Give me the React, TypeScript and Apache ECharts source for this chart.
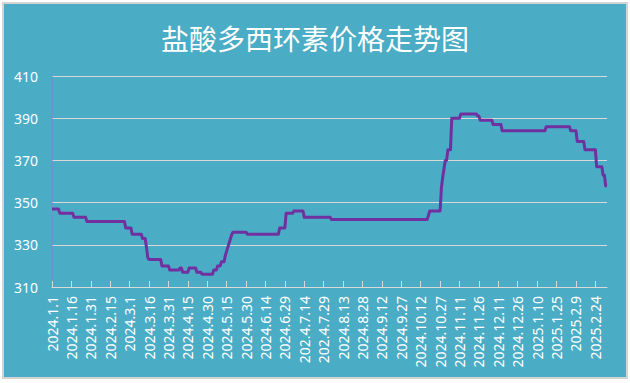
import React, { useEffect, useRef } from 'react';
import * as echarts from 'echarts';

const titleText = '盐酸多西环素价格走势图';

const tickLabels = [
  '2024.1.1', '2024.1.16', '2024.1.31', '2024.2.15', '2024.3.1', '2024.3.16', '2024.3.31',
  '2024.4.15', '2024.4.30', '2024.5.15', '2024.5.30', '2024.6.14', '2024.6.29', '202.4.7.14',
  '202.4.7.29', '2024.8.13', '2024.8.28', '2024.9.12', '2024.9.27', '2024.10.12', '2024.10.27',
  '2024.11.11', '2024.11.26', '2024.12.11', '2024.12.26', '2025.1.10', '2025.1.25', '2025.2.9',
  '2025.2.24',
];
const tickDays = [
  0, 15, 30, 45, 60, 75, 90, 105, 120, 135, 150, 165, 180, 195, 210, 225, 240, 255, 270, 285,
  300, 315, 330, 345, 360, 375, 390, 405, 420,
];
const lastDay = 429;

// day index (from 2024.1.1) where the price level changes
const priceDays = [
  0, 5, 6, 16, 17, 26, 27, 56, 57, 61, 62, 69, 70, 72, 73, 74, 75, 84, 85, 90, 91, 98, 99, 100,
  101, 105, 106, 111, 112, 115, 116, 124, 125, 127, 128, 130, 131, 133, 134, 135, 136, 137, 138,
  139, 140, 150, 151, 175, 176, 180, 181, 186, 187, 194, 195, 215, 216, 290, 291, 292, 300, 301,
  302, 303, 304, 305, 306, 308, 309, 315, 316, 328, 329, 330, 331, 340, 341, 347, 348, 381, 382,
  400, 401, 405, 406, 411, 412, 420, 421, 425, 426, 427, 428, 429,
];
const priceValues = [
  347, 347, 345, 345, 343, 343, 341, 341, 338, 338, 335, 335, 333, 333, 329, 324, 323, 323, 320,
  320, 318, 318, 319, 319, 317, 317, 319, 319, 317, 317, 316, 316, 318, 318, 320, 320, 322, 322,
  325, 327, 329, 331, 333, 335, 336, 336, 335, 335, 338, 338, 345, 345, 346, 346, 343, 343, 342,
  342, 344, 346, 346, 357, 362, 366, 370, 370, 375, 375, 390, 390, 392, 392, 391, 391, 389, 389,
  387, 387, 384, 384, 386, 386, 384, 384, 379, 379, 375, 375, 367, 367, 363, 363, 358, 358,
];

const yMin = 310;
const yMax = 410;
const yInterval = 20;

export default function App() {
  const ref = useRef<HTMLDivElement>(null);

  useEffect(() => {
    if (!ref.current) return;
    const chart = echarts.init(ref.current, undefined, { renderer: 'svg' });
    const data = priceDays.map((d, i) => [d, priceValues[i]]);
    chart.setOption({
      animation: false,
      backgroundColor: 'transparent',
      title: {
        text: titleText,
        left: 'center',
        top: 19,
        textStyle: {
          color: '#ffffff',
          fontSize: 28,
          fontWeight: 'normal',
          fontFamily: '"Noto Sans CJK SC", sans-serif',
        },
      },
      grid: { left: 52, right: 23, top: 76, bottom: 96, containLabel: false },
      xAxis: {
        type: 'value',
        min: 0,
        max: lastDay,
        axisLine: { show: true, onZero: false, lineStyle: { color: '#d9d9d9', width: 1 } },
        axisTick: {
          show: true,
          inside: true,
          length: 6,
          customValues: tickDays,
          lineStyle: { color: '#d9d9d9', width: 1 },
        },
        splitLine: { show: false },
        axisLabel: {
          customValues: tickDays,
          rotate: 90,
          margin: 9,
          color: '#ffffff',
          fontSize: 14,
          fontFamily: '"Noto Sans", sans-serif',
          formatter: (v: number) => {
            const i = tickDays.indexOf(Math.round(v));
            return i >= 0 ? tickLabels[i] : '';
          },
        },
      },
      yAxis: {
        type: 'value',
        min: yMin,
        max: yMax,
        interval: yInterval,
        axisLine: { show: true, lineStyle: { color: 'rgba(120,130,225,0.55)', width: 1 } },
        axisTick: { show: false },
        splitLine: { show: true, lineStyle: { color: '#d9d9d9', width: 1 } },
        axisLabel: {
          color: '#ffffff',
          fontSize: 14,
          margin: 14,
          fontFamily: '"Noto Sans", sans-serif',
        },
      },
      series: [
        {
          type: 'line',
          data,
          showSymbol: false,
          symbol: 'none',
          lineStyle: { color: '#7030A0', width: 3, join: 'round' },
          z: 5,
        },
      ],
    });
    return () => chart.dispose();
  }, []);

  return (
    <div
      style={{
        position: 'fixed',
        left: 0,
        top: 0,
        width: 630,
        height: 383,
        background: '#ffffff',
      }}
    >
      <div
        style={{
          position: 'absolute',
          left: 2,
          top: 2,
          width: 626,
          height: 377,
          boxSizing: 'border-box',
          border: '2px solid #d4d4d4',
          background: '#4BACC6',
        }}
      />
      <div ref={ref} style={{ position: 'absolute', left: 0, top: 0, width: 630, height: 383 }} />
    </div>
  );
}
